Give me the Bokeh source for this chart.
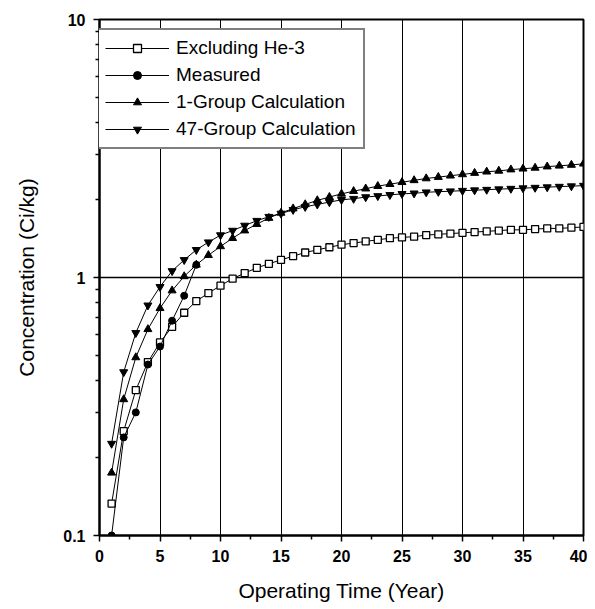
from bokeh.plotting import figure
from bokeh.models import Range1d, FixedTicker, Legend, LegendItem
from bokeh.embed import file_html
from bokeh.resources import INLINE

years = list(range(1, 41))
excl_he3 = [0.133, 0.254, 0.366, 0.47, 0.56, 0.644, 0.73, 0.81, 0.87, 0.93,
            0.99, 1.04, 1.09, 1.13, 1.17, 1.21, 1.25, 1.28, 1.31, 1.34,
            1.36, 1.38, 1.40, 1.42, 1.43, 1.44, 1.46, 1.47, 1.48, 1.49,
            1.50, 1.51, 1.52, 1.53, 1.53, 1.54, 1.55, 1.55, 1.56, 1.57]
meas_years = [1, 2, 3, 4, 5, 6, 7, 8]
measured = [0.1, 0.24, 0.30, 0.46, 0.54, 0.68, 0.85, 1.12]
group1 = [0.175, 0.337, 0.49, 0.63, 0.76, 0.89, 1.01, 1.12, 1.22, 1.32,
          1.42, 1.52, 1.61, 1.70, 1.78, 1.85, 1.92, 1.99, 2.05, 2.11,
          2.16, 2.21, 2.26, 2.30, 2.34, 2.38, 2.42, 2.45, 2.48, 2.51,
          2.54, 2.57, 2.59, 2.62, 2.64, 2.66, 2.69, 2.71, 2.73, 2.76]
group47 = [0.227, 0.43, 0.61, 0.78, 0.92, 1.06, 1.17, 1.28, 1.37, 1.46,
           1.52, 1.59, 1.66, 1.72, 1.77, 1.83, 1.88, 1.92, 1.96, 2.00,
           2.02, 2.05, 2.07, 2.09, 2.11, 2.12, 2.14, 2.15, 2.16, 2.17,
           2.18, 2.19, 2.20, 2.21, 2.22, 2.23, 2.24, 2.25, 2.26, 2.27]

x_ticks = [0, 5, 10, 15, 20, 25, 30, 35, 40]
y_ticks = [0.1, 1, 10]
y_labels = {0.1: "0.1", 1: "1", 10: "10"}

FONT = "Liberation Sans"

p = figure(width=587, height=604, output_backend="svg", toolbar_location=None,
           y_axis_type="log", x_range=Range1d(0, 40), y_range=Range1d(0.1, 10),
           min_border_left=99, min_border_right=4, min_border_top=19,
           min_border_bottom=2)

x_minor = [2.5 + 5 * i for i in range(8)]
y_minor = [m * d for d in (0.1, 1) for m in range(2, 10)]

p.xaxis.ticker = FixedTicker(ticks=x_ticks, minor_ticks=x_minor)
p.yaxis.ticker = FixedTicker(ticks=y_ticks, minor_ticks=y_minor)
p.yaxis.major_label_overrides = {k: v for k, v in y_labels.items()}

for ax in (p.xaxis[0], p.yaxis[0]):
    ax.axis_line_width = 2
    ax.axis_line_color = "black"
    ax.major_tick_line_color = "black"
    ax.minor_tick_line_color = "black"
    ax.major_tick_line_width = 1.5
    ax.minor_tick_line_width = 1.5
    ax.major_tick_in = 0
    ax.major_tick_out = 6
    ax.minor_tick_in = 0
    ax.minor_tick_out = 4
    ax.major_label_text_font = FONT
    ax.major_label_text_font_size = "16px"
    ax.major_label_text_font_style = "bold"
    ax.major_label_text_color = "black"
    ax.axis_label_text_font = FONT
    ax.axis_label_text_font_size = "21px"
    ax.axis_label_text_font_style = "normal"
    ax.axis_label_text_color = "black"

p.xaxis.axis_label = "Operating Time (Year)"
p.yaxis.axis_label = "Concentration (Ci/kg)"
p.xaxis.major_label_standoff = 8
p.yaxis.major_label_standoff = 8
p.xaxis.axis_label_standoff = 14
p.yaxis.axis_label_standoff = 22

p.xgrid.ticker = FixedTicker(ticks=x_ticks)
p.xgrid.grid_line_color = "black"
p.xgrid.grid_line_width = 1
p.ygrid.ticker = FixedTicker(ticks=[1])
p.ygrid.grid_line_color = "black"
p.ygrid.grid_line_width = 1.5

p.outline_line_color = "black"
p.outline_line_width = 2
p.background_fill_color = "white"

r1l = p.line(years, excl_he3, line_color="black", line_width=1)
r1m = p.scatter(years, excl_he3, marker="square", size=7, fill_color="white",
                line_color="black", line_width=1.3)
r2l = p.line(meas_years, measured, line_color="black", line_width=1)
r2m = p.scatter(meas_years, measured, marker="circle", size=7, fill_color="black",
                line_color="black")
r3l = p.line(years, group1, line_color="black", line_width=1)
r3m = p.scatter(years, group1, marker="triangle", size=8, fill_color="black",
                line_color="black")
r4l = p.line(years, group47, line_color="black", line_width=1)
r4m = p.scatter(years, group47, marker="inverted_triangle", size=8, fill_color="black",
                line_color="black")

legend = Legend(items=[
    LegendItem(label="Excluding He-3", renderers=[r1l, r1m]),
    LegendItem(label="Measured", renderers=[r2l, r2m]),
    LegendItem(label="1-Group Calculation", renderers=[r3l, r3m]),
    LegendItem(label="47-Group Calculation", renderers=[r4l, r4m]),
], location=(-3, 386))
legend.label_text_font = FONT
legend.label_text_font_size = "19px"
legend.label_text_color = "black"
legend.glyph_width = 64
legend.glyph_height = 20
legend.label_height = 20
legend.label_standoff = 7
legend.spacing = 5
legend.padding = 7
legend.margin = 0
legend.border_line_color = "black"
legend.border_line_width = 2
legend.background_fill_alpha = 1
p.add_layout(legend)

open("out.html", "w").write(file_html(p, INLINE))
